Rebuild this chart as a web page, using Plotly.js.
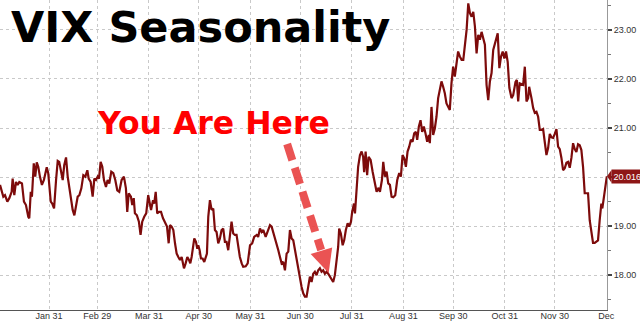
<!DOCTYPE html>
<html>
<head>
<meta charset="utf-8">
<script src="https://cdn.plot.ly/plotly-3.0.1.min.js"></script>
<style>
html,body{margin:0;padding:0;background:#fff;}
#chart{width:640px;height:322px;}
</style>
</head>
<body>
<div id="chart"></div>
<script>
// Day of year (leap year) for each observation
const days = [1.5,2.5,3.5,4.5,5.9,7.1,8.5,9.1,10.1,11.1,12.1,13.1,14.7,15.9,17.1,18.5,19.1,20,20.7,21.8,22.7,23.6,24.5,25.5,26.7,27.9,29.6,30.5,32,32.9,34,35.2,36.2,37.1,38.2,39.2,40.1,41.2,42.2,43.1,44.4,45.2,46.2,47.2,48.2,49.2,50.4,51.6,52.8,54,54.8,56,57.2,58.2,59.2,60.2,61,62,63,64,65.2,66.2,67.2,68.4,69.6,70.8,72,73.2,74.6,76,77.2,78,78.9,
80.2,81,81.9,82.6,83.8,85,86,87,88.2,89.4,90.6,91.5,92.3,93.5,94.2,95.1,96,97.1,98.3,99.5,100.7,101.9,102.9,103.7,104.7,105.7,106.7,107.7,108.7,109.7,110.7,111.5,112.1,113.1,114.1,115.1,115.9,116.7,117.7,118.3,119.3,120.1,120.7,121.5,122.3,123.3,124.3,125.1,125.9,126.7,127.7,128.7,129.7,130.7,131.7,132.7,133.7,134.7,135.7,136.7,137.7,138.7,139.7,140.7,141.7,142.7,143.7,144.7,145.7,146.8,147.7,149.2,150.4,
151.8,153.1,154.3,155.8,156.7,157.8,158.8,159.8,161.2,162.4,163.8,164.8,165.8,166.8,167.8,168.8,169.8,170.8,171.8,172.8,173.8,174.8,175.8,176.8,177.8,178.8,179.8,180.8,181.8,182.8,183.8,184.8,185.8,186.8,187.8,188.8,189.8,190.8,191.8,192.8,193.8,194.8,195.8,196.8,197.8,198.8,199.8,200.8,201.8,202.8,203.8,204.8,205.4,206.4,207.5,208.4,209.4,210.5,211.4,212.5,213.2,214.3,214.9,215.9,216.8,217.9,218.9,219.8,220.4,221.3,
222.2,223.1,224.3,225.5,226.9,227.9,229.1,229.9,231.1,231.9,232.9,233.9,234.9,235.9,236.9,237.9,239.1,240.3,241.5,242.5,243.5,244.5,245.5,246.5,247.5,248.5,249.5,250.5,251.5,252.3,253.3,254.3,255.3,256.3,257.3,258.3,259.3,259.9,260.9,261.9,262.9,263.9,264.9,265.9,266.9,267.9,268.9,269.9,270.9,271.9,272.9,273.9,274.9,275.9,276.9,277.9,279,280,281,282,283,284,285,286,287,288,289,290,291,292,293,294,295,
296,297,298,299.5,300.7,301.7,302.7,303.7,304.7,305.7,306.7,307.7,309,310,311.4,312.2,313,313.9,315.1,316,317,318,319,319.6,321,322,323,324,325,326,327,328,329,330,331,332,333,334,335,336,337,338,339,340,341,342,343,344,345,346,347,348,349,350,351,352,353,354,355,356,357,358,359,360,361,362,363,363.6,364.4,365.4,366.3];

// VIX seasonal average
const vix = [19.84,19.70,19.60,19.63,19.50,19.57,19.70,19.97,19.63,19.90,19.84,19.90,19.87,19.50,19.43,19.19,19.16,19.70,19.60,20.28,20.01,20.30,20.21,20.01,19.84,19.94,20.20,20.08,19.50,19.46,19.36,19.94,20.33,20.31,20.14,19.94,20.24,20.40,20.01,19.77,19.50,19.33,19.22,19.43,19.60,19.63,19.77,20.04,20.01,20.14,19.97,19.90,19.60,19.97,19.94,20.01,19.97,20.31,20.21,19.94,19.80,19.94,19.87,20.11,20.08,19.94,19.73,19.70,19.94,20.01,19.77,19.29,19.67,
19.60,19.43,19.57,19.26,19.22,19.09,18.82,19.09,19.19,19.26,19.63,19.46,19.33,19.53,19.46,19.70,19.26,19.29,19.29,19.16,19.09,18.99,18.65,19.02,18.99,18.92,18.65,18.44,18.37,18.31,18.37,18.24,18.14,18.24,18.37,18.31,18.24,18.37,18.65,18.75,18.68,18.54,18.61,18.51,18.34,18.34,18.27,18.37,18.44,19.19,19.53,19.33,19.36,18.92,18.88,18.65,18.75,18.92,18.95,18.68,18.68,18.51,18.78,19.09,18.85,18.82,18.82,18.61,18.37,18.24,18.17,18.18,18.24,
18.61,18.65,18.78,18.82,18.78,18.95,18.88,18.92,18.78,18.88,19.02,18.99,18.88,18.75,18.65,18.51,18.37,18.24,18.27,18.10,18.44,18.48,18.92,18.75,18.71,18.51,18.31,18.17,17.93,17.76,17.63,17.56,17.56,17.73,17.97,17.86,18.03,18.07,18.00,18.10,18.14,18.07,18.10,18.03,18.07,18.03,17.97,17.90,17.86,18.00,18.31,18.58,18.95,18.85,18.61,18.71,18.92,19.06,18.99,19.09,19.29,19.46,19.26,19.73,20.21,20.45,20.52,20.41,20.10,20.52,
20.04,20.41,20.35,20.11,19.87,19.70,19.78,19.70,19.94,20.31,20.01,20.11,19.87,19.84,19.60,19.59,19.63,19.94,20.08,20.01,20.45,20.38,20.21,20.52,20.62,20.76,20.72,20.89,20.92,20.76,21.03,21.16,20.92,21.03,20.89,20.72,20.86,20.69,21.43,20.86,20.99,21.23,21.61,21.78,21.95,21.84,21.71,21.50,21.43,21.37,21.91,22.25,22.05,22.32,22.56,22.46,22.39,22.39,22.73,23.00,23.54,23.34,23.27,23.37,23.07,22.52,22.90,22.80,22.96,22.80,22.70,21.88,21.57,
21.95,22.12,22.59,22.80,22.93,22.22,22.46,22.56,22.42,22.56,22.35,21.82,21.61,21.67,21.94,21.98,21.54,21.91,21.90,21.88,22.25,21.54,21.61,21.84,21.61,21.41,21.31,21.33,21.23,20.96,20.96,20.98,20.71,20.45,20.59,20.88,20.81,20.80,20.88,20.98,20.62,20.57,20.39,20.14,20.18,20.29,20.31,20.19,20.39,20.69,20.57,20.51,20.67,20.65,20.55,20.21,19.67,19.67,19.67,19.12,18.85,18.66,18.66,18.68,18.71,19.12,19.46,19.36,19.53,19.73,20.016];

const tickDays = [31,60,91,121,152,182,213,244,274,305,335,366];
const tickLabels = ["Jan 31","Feb 29","Mar 31","Apr 30","May 31","Jun 30","Jul 31","Aug 31","Sep 30","Oct 31","Nov 30","Dec"];
const yTicks = [18,19,20,21,22,23];
const yTickLabels = ["18.00","19.00","","21.00","22.00","23.00"]; // 20.00 hidden under the last-value tag

const lineColor = '#7d0b0b';
const last = vix[vix.length-1];

const trace = {
  x: days, y: vix, type: 'scatter', mode: 'lines',
  line: {color: lineColor, width: 2.2},
  hoverinfo: 'skip'
};

const W = 606.7, H = 310;
const px = v => v / W;
const py = v => 1 - v / H;

const layout = {
  width: 640, height: 322,
  margin: {l: 0, r: 33, t: 0, b: 12, pad: 0},
  paper_bgcolor: '#fff', plot_bgcolor: '#fff',
  showlegend: false,
  font: {family: 'Liberation Sans, Arial, sans-serif', size: 9, color: '#333'},
  xaxis: {
    range: [1.5, 366.4], tickmode: 'array', tickvals: tickDays, ticktext: tickLabels,
    showgrid: true, gridcolor: '#c9c9c9', griddash: 'dot', gridwidth: 1,
    showline: true, linecolor: '#555', linewidth: 1,
    ticks: '', ticklabelstandoff: -3, zeroline: false, automargin: false, fixedrange: true,
    tickfont: {size: 9, color: '#333'}
  },
  yaxis: {
    range: [17.29, 23.61], side: 'right', tickmode: 'array', tickvals: yTicks,
    ticktext: yTickLabels,
    showgrid: true, gridcolor: '#c9c9c9', griddash: 'dot', gridwidth: 1,
    showline: true, linecolor: '#999', linewidth: 1,
    ticks: 'outside', ticklen: 4, tickwidth: 2, tickcolor: '#444',
    minor: {tickmode: 'linear', tick0: 17.5, dtick: 1, ticks: 'outside', ticklen: 3, tickcolor: '#777', tickwidth: 1, showgrid: false},
    zeroline: false, automargin: false, fixedrange: true,
    tickfont: {size: 9, color: '#333'}
  },
  shapes: [
    {type: 'line', xref: 'paper', yref: 'paper',
     x0: px(287), y0: py(144), x1: px(321), y1: py(250),
     line: {color: 'rgba(232,64,64,0.9)', width: 8, dash: '17px,8px'}},
    {type: 'path', xref: 'paper', yref: 'paper',
     path: `M ${px(328.5)},${py(273)} L ${px(310.5)},${py(254)} L ${px(332)},${py(247.5)} Z`,
     fillcolor: 'rgba(232,64,64,0.9)', line: {width: 0}},
    {type: 'path', xref: 'paper', yref: 'y',
     path: `M 1.0,${last} L ${1.0 + 4.5/W},${last + 0.13} L ${1.0 + 4.5/W},${last - 0.13} Z`,
     fillcolor: '#8e1616', line: {width: 0}}
  ],
  annotations: [
    {text: '<b>VIX Seasonality</b>', xref: 'paper', yref: 'paper', x: px(9), y: py(27),
     xanchor: 'left', yanchor: 'middle', showarrow: false,
     font: {family: 'DejaVu Sans, Verdana, sans-serif', size: 43, color: '#000'}},
    {text: '<b>You Are Here</b>', xref: 'paper', yref: 'paper', x: px(95), y: py(123),
     xanchor: 'left', yanchor: 'middle', showarrow: false,
     font: {family: 'DejaVu Sans, Verdana, sans-serif', size: 31.5, color: '#ff0000'}},
    {text: last.toFixed(3), xref: 'paper', yref: 'y', x: 1, y: last,
     xanchor: 'left', yanchor: 'middle', xshift: 4, showarrow: false,
     bgcolor: '#8e1616', borderpad: 1.5,
     font: {family: 'Liberation Sans, Arial, sans-serif', size: 9, color: '#fff'}}
  ]
};

Plotly.newPlot('chart', [trace], layout, {staticPlot: true, displayModeBar: false});
</script>
</body>
</html>
